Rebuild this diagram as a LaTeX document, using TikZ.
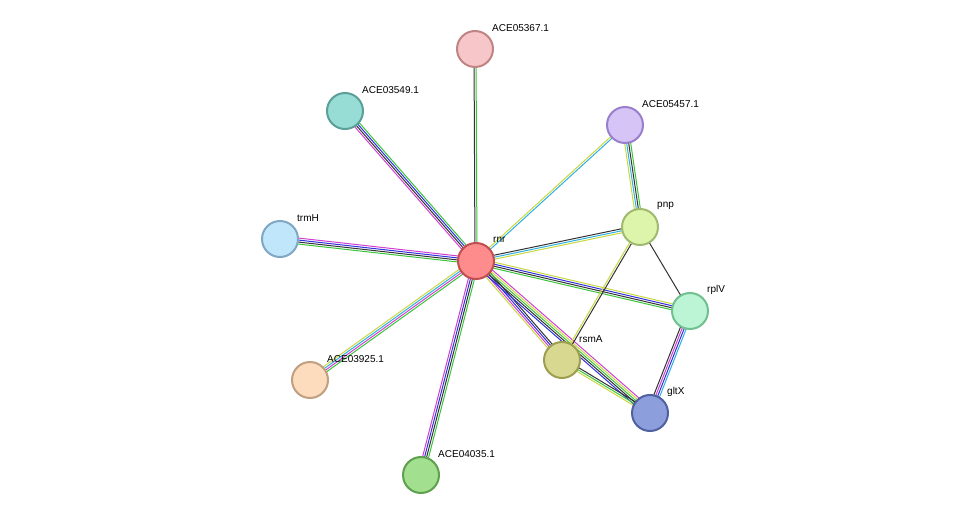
\documentclass[tikz,border=0pt]{standalone}
\usepackage{fontspec}
\setmainfont{Liberation Sans}
\usetikzlibrary{calc}
\definecolor{cnb}{HTML}{3BC43B}
\definecolor{ccc}{HTML}{3030E0}
\definecolor{ctm}{HTML}{C8D840}
\definecolor{ccx}{HTML}{333333}
\definecolor{cdb}{HTML}{30B0E0}
\definecolor{cex}{HTML}{D040D0}
\tikzset{
  prot/.style n args={2}{circle, minimum size=36pt, inner sep=0pt, line width=2pt, draw=#2, fill=#1},
  lab/.style={anchor=west, font=\fontsize{10}{11}\selectfont, inner sep=0pt},
}
\newcommand{\multiedge}[3]{%
  \foreach \c [count=\k from 0] in {#3} {
    \pgfmathsetmacro{\o}{2*(\k-0.5*(\stringsn-1))}
    \draw[\c, line width=1pt] ($(#1)!\o pt!90:(#2)$) -- ($(#2)!\o pt!-90:(#1)$);
  }}
\begin{document}
\begin{tikzpicture}[x=1pt, y=-1pt]
\useasboundingbox (0,0) rectangle (975,521);

\coordinate (rnr) at (476,261);
\coordinate (a67) at (475,49);
\coordinate (a49) at (345,111);
\coordinate (a57) at (625,125);
\coordinate (pnp) at (640,227);
\coordinate (trmH) at (280,239);
\coordinate (rplV) at (690,311);
\coordinate (rsmA) at (562,360);
\coordinate (a25) at (310,380);
\coordinate (gltX) at (650,413);
\coordinate (a35) at (421,475);

% edges
\def\stringsn{2}\multiedge{rnr}{a67}{cnb,ccx}
\def\stringsn{4}\multiedge{rnr}{a49}{cnb,ccc,ccx,cex}
\def\stringsn{2}\multiedge{rnr}{a57}{cdb,ctm}
\def\stringsn{3}\multiedge{rnr}{pnp}{ctm,cdb,ccx}
\def\stringsn{4}\multiedge{rnr}{trmH}{cex,ccc,ccx,cnb}
\def\stringsn{4}\multiedge{rnr}{rplV}{cnb,ccx,ccc,ctm}
\def\stringsn{4}\multiedge{rnr}{rsmA}{ctm,cex,ccc,ccx}
\def\stringsn{5}\multiedge{rnr}{gltX}{ccc,ccx,cnb,ctm,cex}
\def\stringsn{4}\multiedge{rnr}{a25}{ctm,cdb,cex,cnb}
\def\stringsn{4}\multiedge{rnr}{a35}{cex,ccc,ccx,cnb}
\def\stringsn{4}\multiedge{pnp}{a57}{cnb,ccx,cdb,ctm}
\def\stringsn{2}\multiedge{pnp}{rsmA}{ctm,ccx}
\def\stringsn{1}\multiedge{pnp}{rplV}{ccx}
\def\stringsn{4}\multiedge{rplV}{gltX}{ccx,cex,ccc,cdb}
\def\stringsn{3}\multiedge{rsmA}{gltX}{ctm,cnb,ccx}

% proteins
\foreach \n/\f/\d/\t in {a67/F7C6C8/C08484/ACE05367.1, a49/97DDD5/5A9F98/ACE03549.1,
  a57/D6C4F6/9A80CC/ACE05457.1, pnp/DDF5AA/A0BA70/pnp, trmH/BFE6FA/80A8C4/trmH,
  rnr/FF8C8C/C05050/rnr, rplV/BBF5D5/70C090/rplV, rsmA/D8D890/9E9E50/rsmA,
  a25/FDDCBE/C0A080/ACE03925.1, gltX/8C9EDC/5060A0/gltX, a35/A2DF8E/5FA050/ACE04035.1} {
  \definecolor{fc}{HTML}{\f}\definecolor{dc}{HTML}{\d}
  \node[prot={fc}{dc}] (n-\n) at (\n) {};
  \node[lab] (l-\n) at ($(\n)+(17,-21)$) {\t};
}
\end{tikzpicture}
\end{document}
